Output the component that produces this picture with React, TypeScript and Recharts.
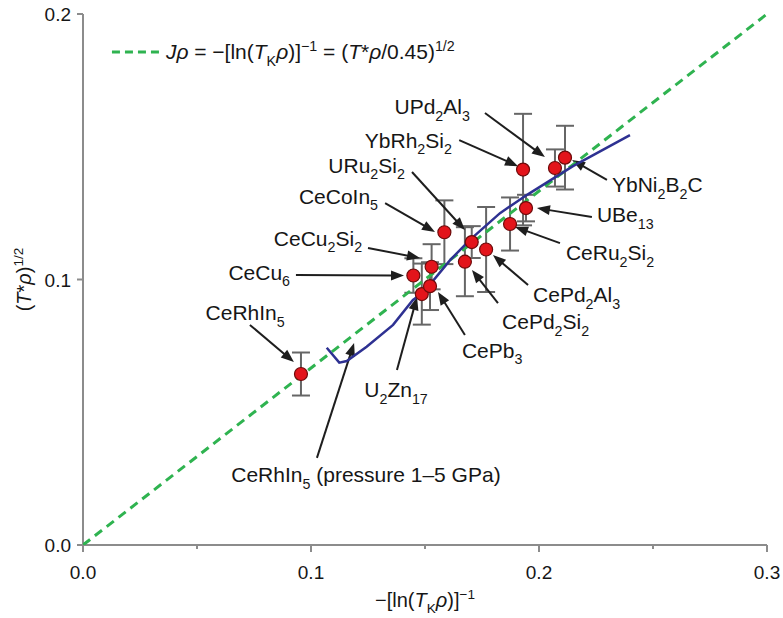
import React from 'react';
import {
  ScatterChart, Scatter, XAxis, YAxis, ErrorBar, ReferenceLine, ReferenceDot, Label,
} from 'recharts';

// ---- data ----
const compounds = [
  'CeRhIn5', 'CeCu6', 'U2Zn17', 'CePb3', 'CeCu2Si2', 'CeCoIn5', 'CePd2Si2',
  'URu2Si2', 'CePd2Al3', 'CeRu2Si2', 'UBe13', 'YbRh2Si2', 'UPd2Al3', 'YbNi2B2C',
];
const xVals = [0.0956, 0.1449, 0.1486, 0.1522, 0.1529, 0.1585, 0.1675, 0.1705, 0.1768, 0.1873, 0.1943, 0.1930, 0.2070, 0.2114];
const yVals = [0.0644, 0.1015, 0.0945, 0.0975, 0.1048, 0.1178, 0.1067, 0.1141, 0.1113, 0.1209, 0.1269, 0.1414, 0.1420, 0.1459];
const errVals = [0.0081, 0.0065, 0.0115, 0.0090, 0.0085, 0.0120, 0.0130, 0.0060, 0.0160, 0.0100, 0.0050, 0.0210, 0.0070, 0.0120];

const pressureX = [0.1069, 0.1124, 0.1157, 0.1244, 0.1360, 0.1447, 0.1491, 0.1610, 0.1697, 0.1829, 0.1946, 0.2149, 0.2399];
const pressureY = [0.0743, 0.0687, 0.0693, 0.0747, 0.0829, 0.0923, 0.0949, 0.1073, 0.1149, 0.1250, 0.1318, 0.1427, 0.1544];

const guideX = [0, 0.3];
const guideY = [0, 0.2];

const xTicks = [0, 0.05, 0.1, 0.15, 0.2, 0.25, 0.3];
const yTicks = [0, 0.1, 0.2];

// annotations: label position (data units), anchor, arrow start -> end (data units)
const annotations = [
  { text: 'UPd_{2}Al_{3}', lx: 0.1697, ly: 0.1650, anchor: 'end', ax1: 0.1763, ay1: 0.1627, ax2: 0.2026, ay2: 0.1461 },
  { text: 'YbRh_{2}Si_{2}', lx: 0.1618, ly: 0.1525, anchor: 'end', ax1: 0.1650, ay1: 0.1525, ax2: 0.1908, ay2: 0.1427 },
  { text: 'URu_{2}Si_{2}', lx: 0.1412, ly: 0.1431, anchor: 'end', ax1: 0.1443, ay1: 0.1405, ax2: 0.1675, ay2: 0.1186 },
  { text: 'CeCoIn_{5}', lx: 0.1294, ly: 0.1314, anchor: 'end', ax1: 0.1325, ay1: 0.1288, ax2: 0.1544, ay2: 0.1179 },
  { text: 'CeCu_{2}Si_{2}', lx: 0.1224, ly: 0.1156, anchor: 'end', ax1: 0.1250, ay1: 0.1119, ax2: 0.1478, ay2: 0.1081 },
  { text: 'CeCu_{6}', lx: 0.0908, ly: 0.1028, anchor: 'end', ax1: 0.0934, ay1: 0.1017, ax2: 0.1408, ay2: 0.1015 },
  { text: 'CeRhIn_{5}', lx: 0.0711, ly: 0.0874, anchor: 'middle', ax1: 0.0732, ay1: 0.0829, ax2: 0.0925, ay2: 0.0689 },
  { text: 'U_{2}Zn_{17}', lx: 0.1373, ly: 0.0584, anchor: 'middle', ax1: 0.1377, ay1: 0.0659, ax2: 0.1465, ay2: 0.0934 },
  { text: 'CeRhIn_{5} (pressure 1\u20135 GPa)', lx: 0.1241, ly: 0.0264, anchor: 'middle', ax1: 0.1026, ay1: 0.0328, ax2: 0.1189, ay2: 0.0761 },
  { text: 'CePb_{3}', lx: 0.1662, ly: 0.0734, anchor: 'start', ax1: 0.1675, ay1: 0.0791, ax2: 0.1557, ay2: 0.0953 },
  { text: 'CePd_{2}Si_{2}', lx: 0.1838, ly: 0.0840, anchor: 'start', ax1: 0.1820, ay1: 0.0911, ax2: 0.1706, ay2: 0.1036 },
  { text: 'CePd_{2}Al_{3}', lx: 0.1974, ly: 0.0942, anchor: 'start', ax1: 0.1952, ay1: 0.0979, ax2: 0.1798, ay2: 0.1092 },
  { text: 'CeRu_{2}Si_{2}', lx: 0.2118, ly: 0.1100, anchor: 'start', ax1: 0.2092, ay1: 0.1137, ax2: 0.1895, ay2: 0.1198 },
  { text: 'UBe_{13}', lx: 0.2254, ly: 0.1243, anchor: 'start', ax1: 0.2232, ay1: 0.1235, ax2: 0.1991, ay2: 0.1269 },
  { text: 'YbNi_{2}B_{2}C', lx: 0.2320, ly: 0.1356, anchor: 'start', ax1: 0.2298, ay1: 0.1375, ax2: 0.2145, ay2: 0.1450 },
];

const legendText = '~J\u03c1~ = \u2212[ln(~T~_{K}~\u03c1~)]^{\u22121} = (~T~*~\u03c1~/0.45)^{1/2}';
const legendSeg = { x1: 0.0127, x2: 0.0346, y: 0.1857 };
const xTitle = '\u2212[ln(~T~_{K}~\u03c1~)]^{\u22121}';
const yTitle = '(~T~*~\u03c1~)^{1/2}';

// ---- styles ----
const FONT = '"Liberation Sans", Arial, Helvetica, sans-serif';
const TEXT = '#161616';
const AXIS = '#8c8c8c';
const GREEN = '#2fb350';
const BLUE = '#2e3192';
const RED = '#e3141b';

const points = compounds.map((name, i) => ({ name, x: xVals[i], y: yVals[i], err: errVals[i] }));
const pressure = pressureX.map((x, i) => ({ x, y: pressureY[i] }));
const guide = guideX.map((x, i) => ({ x, y: guideY[i] }));

type Seg = { t: string; italic: boolean; mode: 'n' | 'sub' | 'sup' };
function parseRich(s: string): Seg[] {
  const out: Seg[] = [];
  let italic = false;
  let mode: Seg['mode'] = 'n';
  let buf = '';
  const push = () => { if (buf) { out.push({ t: buf, italic, mode }); buf = ''; } };
  for (let i = 0; i < s.length; i++) {
    const c = s[i];
    if (c === '~') { push(); italic = !italic; }
    else if ((c === '_' || c === '^') && s[i + 1] === '{') { push(); mode = c === '_' ? 'sub' : 'sup'; i++; }
    else if (c === '}' && mode !== 'n') { push(); mode = 'n'; }
    else buf += c;
  }
  push();
  return out;
}

function Rich({ x, y, text, fontSize, anchor = 'start' }: { x: number; y: number; text: string; fontSize: number; anchor?: string }) {
  const segs = parseRich(text);
  let shift = 0;
  return (
    <text x={x} y={y} textAnchor={anchor as any} fontSize={fontSize} fontFamily={FONT} fill={TEXT}>
      {segs.map((s, i) => {
        const target = s.mode === 'sub' ? fontSize * 0.3 : s.mode === 'sup' ? -fontSize * 0.42 : 0;
        const dy = target - shift;
        shift = target;
        return (
          <tspan key={i} dy={dy} fontSize={s.mode === 'n' ? fontSize : fontSize * 0.68} fontStyle={s.italic ? 'italic' : 'normal'}>
            {s.t}
          </tspan>
        );
      })}
    </text>
  );
}

const isMajor = (v: number) => Math.abs(v * 10 - Math.round(v * 10)) < 1e-6;

const BottomTick = (p: any) => {
  const { x, y, payload } = p;
  const v = payload.value as number;
  const major = isMajor(v);
  return (
    <g>
      <line x1={x} x2={x} y1={y} y2={y + (major ? 7 : 4)} stroke={AXIS} strokeWidth={2} />
      {major && (
        <text x={x} y={y + 34} textAnchor="middle" fontSize={19} fontFamily={FONT} fill={TEXT}>{v.toFixed(1)}</text>
      )}
    </g>
  );
};

const TopTick = (p: any) => {
  const { x, y, payload } = p;
  const v = payload.value as number;
  const major = isMajor(v);
  return <line x1={x} x2={x} y1={y} y2={y + (major ? 8 : 4)} stroke={AXIS} strokeWidth={2} />;
};

const LeftTick = (p: any) => {
  const { x, y, payload } = p;
  const v = payload.value as number;
  return (
    <g>
      <line x1={x - 6} x2={x} y1={y} y2={y} stroke={AXIS} strokeWidth={2} />
      <text x={x - 12} y={y + 7} textAnchor="end" fontSize={19} fontFamily={FONT} fill={TEXT}>{v.toFixed(1)}</text>
    </g>
  );
};

function Arrow(p: any) {
  const { x1, y1, x2, y2 } = p;
  const dx = x2 - x1;
  const dy = y2 - y1;
  const L = Math.hypot(dx, dy) || 1;
  const ux = dx / L;
  const uy = dy / L;
  const hl = 13;
  const hw = 5;
  const bx = x2 - ux * hl;
  const by = y2 - uy * hl;
  return (
    <g>
      <line x1={x1} y1={y1} x2={bx + ux * 2} y2={by + uy * 2} stroke="#1e1e1e" strokeWidth={2} />
      <polygon points={`${x2},${y2} ${bx - uy * hw},${by + ux * hw} ${bx + uy * hw},${by - ux * hw}`} fill="#1e1e1e" />
    </g>
  );
}

const Dot = (p: any) => (
  <circle cx={p.cx} cy={p.cy} r={6.5} fill={RED} stroke="#6e0a0a" strokeWidth={1.2} />
);

const NoShape = () => <g />;

export default function App() {
  return (
    <div style={{ position: 'absolute', left: 0, top: 0, width: 783, height: 618, overflow: 'visible' }}>
      <ScatterChart width={783} height={618} margin={{ top: 14, right: 16, bottom: 0, left: 0 }} style={{ overflow: 'visible' }}>
        <XAxis
          xAxisId={0}
          type="number"
          dataKey="x"
          domain={[0, 0.3]}
          ticks={xTicks}
          interval={0}
          height={73}
          tickSize={0}
          tickMargin={0}
          tick={<BottomTick />}
          tickLine={false}
          axisLine={{ stroke: AXIS, strokeWidth: 2 }}
          allowDataOverflow
        >
          <Label
            content={(lp: any) => {
              const vb = lp.viewBox || {};
              return <Rich x={vb.x + vb.width / 2} y={vb.y + 62} text={xTitle} fontSize={20} anchor="middle" />;
            }}
          />
        </XAxis>
        <XAxis
          xAxisId="top"
          orientation="top"
          type="number"
          domain={[0, 0.3]}
          ticks={xTicks}
          interval={0}
          height={0}
          tickSize={0}
          tickMargin={0}
          tick={<TopTick />}
          tickLine={false}
          axisLine={{ stroke: AXIS, strokeWidth: 2 }}
          allowDataOverflow
        />
        <YAxis
          yAxisId={0}
          type="number"
          dataKey="y"
          domain={[0, 0.2]}
          ticks={yTicks}
          interval={0}
          width={83}
          tickSize={0}
          tickMargin={0}
          tick={<LeftTick />}
          tickLine={false}
          axisLine={{ stroke: AXIS, strokeWidth: 2 }}
          allowDataOverflow
        >
          <Label
            content={(lp: any) => {
              const vb = lp.viewBox || {};
              const cx = vb.x + 31;
              const cy = vb.y + vb.height / 2;
              return (
                <g transform={`rotate(-90, ${cx}, ${cy})`}>
                  <Rich x={cx} y={cy} text={yTitle} fontSize={20} anchor="middle" />
                </g>
              );
            }}
          />
        </YAxis>
        <YAxis
          yAxisId="right"
          orientation="right"
          type="number"
          domain={[0, 0.2]}
          ticks={yTicks}
          width={0}
          tick={false}
          tickLine={false}
          axisLine={{ stroke: AXIS, strokeWidth: 2 }}
          allowDataOverflow
        />

        <Scatter
          name="guide"
          data={guide}
          line={{ stroke: GREEN, strokeWidth: 3, strokeDasharray: '9 6' }}
          lineType="joint"
          shape={NoShape}
          isAnimationActive={false}
        />
        <Scatter
          name="pressure"
          data={pressure}
          line={{ stroke: BLUE, strokeWidth: 2.5 }}
          lineType="joint"
          shape={NoShape}
          isAnimationActive={false}
        />
        <Scatter name="compounds" data={points} shape={Dot} isAnimationActive={false}>
          <ErrorBar dataKey="err" direction="y" width={9} stroke="#666" strokeWidth={2} isAnimationActive={false} />
        </Scatter>

        {annotations.map((a, i) => (
          <ReferenceLine
            key={`arr${i}`}
            segment={[{ x: a.ax1, y: a.ay1 }, { x: a.ax2, y: a.ay2 }]}
            shape={Arrow}
          />
        ))}
        {annotations.map((a, i) => (
          <ReferenceDot
            key={`lab${i}`}
            x={a.lx}
            y={a.ly}
            r={0}
            shape={(p: any) => <Rich x={p.cx} y={p.cy + 7.5} text={a.text} fontSize={21} anchor={a.anchor} />}
          />
        ))}
        <ReferenceLine
          segment={[{ x: legendSeg.x1, y: legendSeg.y }, { x: legendSeg.x2, y: legendSeg.y }]}
          shape={(p: any) => (
            <g>
              <line x1={p.x1} y1={p.y1} x2={p.x2} y2={p.y2} stroke={GREEN} strokeWidth={3} strokeDasharray="8 5" />
              <Rich x={p.x2 + 4} y={p.y2 + 7.5} text={legendText} fontSize={21} />
            </g>
          )}
        />
      </ScatterChart>
    </div>
  );
}
